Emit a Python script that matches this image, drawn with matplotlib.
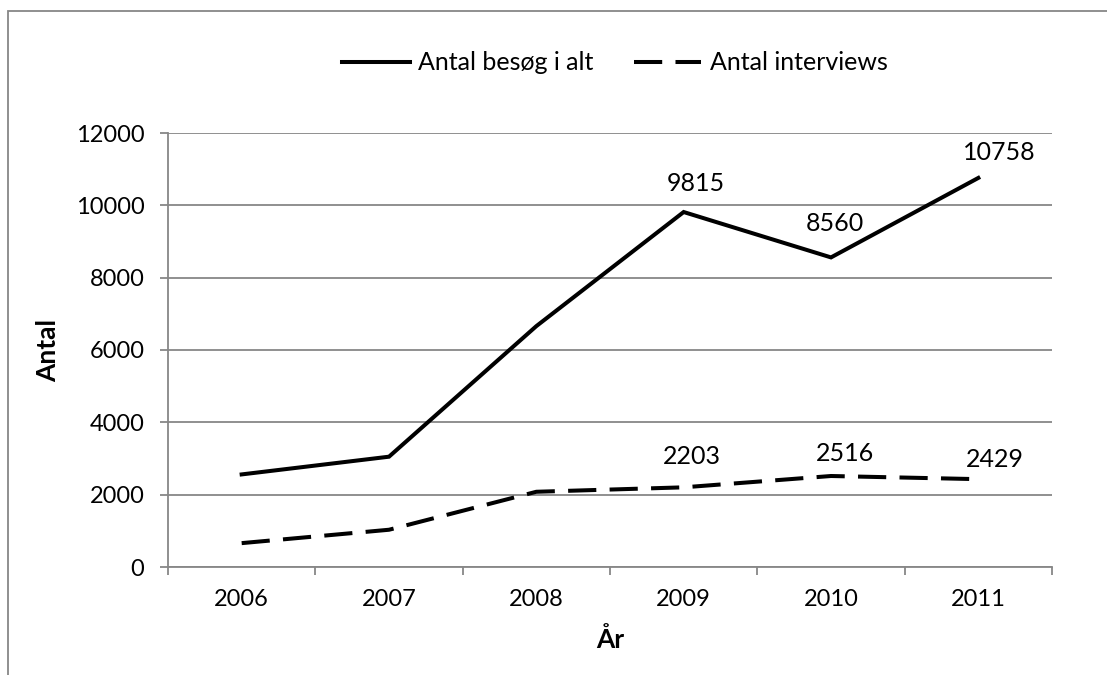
import matplotlib
matplotlib.use("Agg")
from matplotlib import pyplot as plt
from matplotlib.patches import Rectangle
import numpy as np

aar = ['2006', '2007', '2008', '2009', '2010', '2011']
besoeg = [2560, 3050, 6660, 9815, 8560, 10758]
interviews = [660, 1030, 2080, 2203, 2516, 2429]
# labels only on the last three years
label_idx = [3, 4, 5]
off_besoeg = [(12, 29), (4, 34), (21, 25)]
off_interviews = [(8, 31), (14, 23), (17, 20)]

plt.rcParams['font.family'] = ['Lato', 'DejaVu Sans']
grey = '#878787'
fs = 18

fig = plt.figure(figsize=(11.07, 6.75), dpi=100)
ax = fig.add_axes([168/1107, 1-567/675, (1052-168)/1107, (567-133)/675])

# outer chart border
fig.patches.append(Rectangle((8/1107, -0.2), 1.2, 1.2-11/675, transform=fig.transFigure,
                             fill=False, edgecolor=grey, linewidth=1.3))

x = np.arange(len(aar))
ax.plot(x, besoeg, color='black', linewidth=2.9, solid_joinstyle='miter', label='Antal besøg i alt')
ax.plot(x, interviews, color='black', linewidth=2.9, linestyle=(0, (7, 3.3)), label='Antal interviews')

for i, (dx, dy) in zip(label_idx, off_besoeg):
    ax.annotate(str(besoeg[i]), (x[i], besoeg[i]), xytext=(dx, dy), textcoords='offset pixels',
                ha='center', va='center', fontsize=fs)
for i, (dx, dy) in zip(label_idx, off_interviews):
    ax.annotate(str(interviews[i]), (x[i], interviews[i]), xytext=(dx, dy), textcoords='offset pixels',
                ha='center', va='center', fontsize=fs)

ax.set_xlim(-0.5, len(aar) - 0.5)
ax.set_ylim(0, 12000)
ax.set_yticks(np.arange(0, 12001, 2000))
ax.set_xticks(x)
ax.set_xticklabels(aar)
ax.set_xticks(np.arange(-0.5, len(aar)), minor=True)
ax.tick_params(axis='x', which='major', length=0, pad=16, labelsize=17)
ax.tick_params(axis='x', which='minor', length=6, color=grey, width=1.3)
ax.tick_params(axis='y', length=6, color=grey, width=1.3, pad=11, labelsize=17)

ax.grid(axis='y', color=grey, linewidth=1.3)
ax.set_axisbelow(True)
for s in ['top', 'right']:
    ax.spines[s].set_visible(False)
for s in ['left', 'bottom']:
    ax.spines[s].set_color(grey)
    ax.spines[s].set_linewidth(1.3)

ax.set_xlabel('År', fontsize=19, fontweight='bold', labelpad=12)
ax.set_ylabel('Antal', fontsize=19, fontweight='bold', labelpad=11)

fig.legend(loc='center', bbox_to_anchor=(615/1107, 1-63/675), ncol=2, frameon=False,
           fontsize=fs, handlelength=2.7, handletextpad=0.35, columnspacing=1.6)

plt.savefig('out.png', dpi=100)
